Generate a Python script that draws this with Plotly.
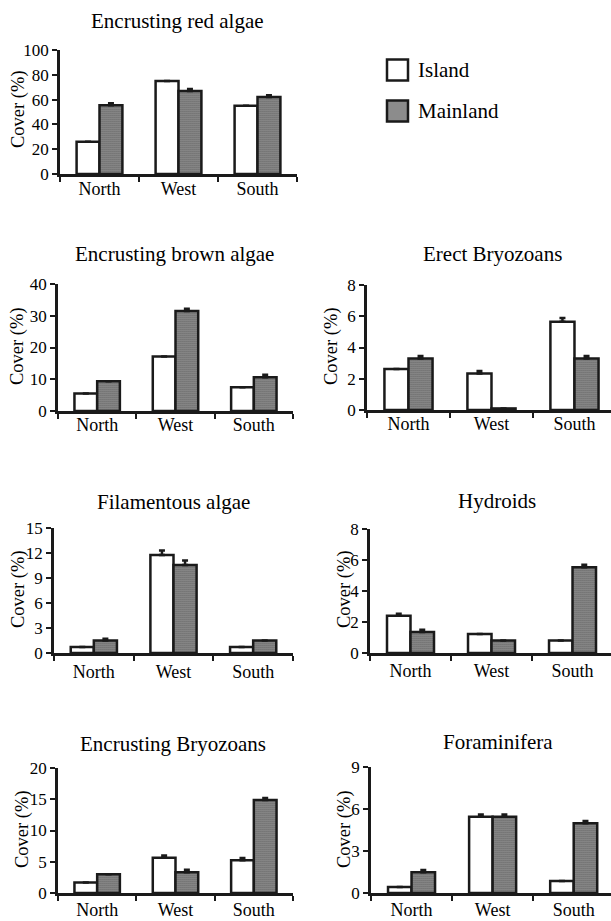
import plotly.graph_objects as go

W, H = 611, 921
FONT = "Liberation Serif"

categories = ["North", "West", "South"]

titles = ["Encrusting red algae", "Encrusting brown algae", "Erect Bryozoans",
          "Filamentous algae", "Hydroids", "Encrusting Bryozoans", "Foraminifera"]

red_island = [26, 75, 55]
red_island_err = [0, 0, 0]
red_main = [55.5, 67, 62]
red_main_err = [1.5, 1.5, 1.5]

brown_island = [5.5, 17.2, 7.5]
brown_island_err = [0, 0, 0]
brown_main = [9.4, 31.5, 10.6]
brown_main_err = [0, 0.7, 0.8]

erect_island = [2.62, 2.34, 5.64]
erect_island_err = [0, 0.15, 0.25]
erect_main = [3.3, 0.1, 3.3]
erect_main_err = [0.15, 0, 0.15]

fil_island = [0.72, 11.76, 0.72]
fil_island_err = [0, 0.55, 0]
fil_main = [1.5, 10.56, 1.5]
fil_main_err = [0.2, 0.55, 0]

hyd_island = [2.4, 1.22, 0.8]
hyd_island_err = [0.13, 0, 0]
hyd_main = [1.35, 0.8, 5.54]
hyd_main_err = [0.15, 0, 0.15]

eb_island = [1.66, 5.63, 5.25]
eb_island_err = [0, 0.37, 0.35]
eb_main = [3.0, 3.3, 14.9]
eb_main_err = [0, 0.4, 0.3]

for_island = [0.43, 5.45, 0.86]
for_island_err = [0, 0.15, 0]
for_main = [1.48, 5.45, 4.98]
for_main_err = [0.17, 0.15, 0.16]

y_max = [100, 40, 8, 15, 8, 20, 9]
y_step = [20, 10, 2, 3, 2, 5, 3]

island_vals = [red_island, brown_island, erect_island, fil_island, hyd_island, eb_island, for_island]
island_errs = [red_island_err, brown_island_err, erect_island_err, fil_island_err, hyd_island_err, eb_island_err, for_island_err]
main_vals = [red_main, brown_main, erect_main, fil_main, hyd_main, eb_main, for_main]
main_errs = [red_main_err, brown_main_err, erect_main_err, fil_main_err, hyd_main_err, eb_main_err, for_main_err]

# layout (pixels): x0, x1, y_top, y_zero, x-range max, title x, title y, ytitle x, ytitle y, label standoff
panels = [
    (60, 297, 50, 174, 2.5, 177, 21, 18, 109, -3),
    (58, 293, 284, 411, 2.5, 174, 254, 18, 346, -4),
    (367, 611, 285, 410, 2.44, 492, 254, 332, 346, -4),
    (54, 293, 528, 653, 2.5, 173, 502, 18, 589, 1),
    (370, 611, 529, 653, 2.475, 497, 501, 344, 589, 0),
    (58, 293, 768, 893, 2.5, 173, 744, 22, 829, -1),
    (371, 611, 767, 893, 2.46, 498, 742, 344, 829, -1),
]

fig = go.Figure()
annotations = []
LINE = "#1a1a1a"

for i, (x0, x1, yt, yz, xr, tx, ty, ytx, yty, lso) in enumerate(panels):
    n = "" if i == 0 else str(i + 1)
    xa, ya = "x" + n, "y" + n
    fig.add_trace(go.Bar(
        x=categories, y=island_vals[i], xaxis=xa, yaxis=ya, name="Island",
        showlegend=False,
        marker=dict(color="white", line=dict(color=LINE, width=2.5)),
        error_y=dict(type="data", symmetric=False, array=island_errs[i],
                     arrayminus=[0, 0, 0], color=LINE, thickness=2.5, width=3),
    ))
    fig.add_trace(go.Bar(
        x=categories, y=main_vals[i], xaxis=xa, yaxis=ya, name="Mainland",
        showlegend=False,
        marker=dict(color="#8c8c8c", line=dict(color=LINE, width=2.5),
                    pattern=dict(shape=".", size=2, solidity=0.6,
                                 fgcolor="#4a4a4a", bgcolor="#b4b4b4", fillmode="replace")),
        error_y=dict(type="data", symmetric=False, array=main_errs[i],
                     arrayminus=[0, 0, 0], color=LINE, thickness=2.5, width=3),
    ))
    fig.update_layout(**{
        ("xaxis" + n): dict(
            domain=[x0 / W, x1 / W], anchor=ya, type="category",
            range=[-0.5, xr], showline=True, linecolor=LINE, linewidth=2.5,
            ticks="outside", tickson="boundaries", ticklen=5, tickwidth=2,
            tickcolor=LINE, showgrid=False, zeroline=False, automargin=False,
            ticklabelstandoff=lso,
            tickfont=dict(family=FONT, size=18, color="black"),
            fixedrange=True,
        ),
        ("yaxis" + n): dict(
            domain=[1 - yz / H, 1 - yt / H], anchor=xa,
            range=[0, y_max[i]], tickmode="linear", tick0=0, dtick=y_step[i],
            showline=True, linecolor=LINE, linewidth=2.5, automargin=False,
            ticks="outside", ticklen=5, tickwidth=2, tickcolor=LINE,
            showgrid=False, zeroline=False,
            tickfont=dict(family=FONT, size=17, color="black"),
            fixedrange=True,
        ),
    })
    annotations.append(dict(
        text=titles[i], x=tx / W, y=1 - ty / H, xref="paper", yref="paper",
        xanchor="center", yanchor="middle", showarrow=False,
        font=dict(family=FONT, size=21, color="black")))
    annotations.append(dict(
        text="Cover (%)", x=ytx / W, y=1 - yty / H, xref="paper", yref="paper",
        xanchor="center", yanchor="middle", showarrow=False, textangle=-90,
        font=dict(family=FONT, size=18.5, color="black")))

# legend
legend_labels = ["Island", "Mainland"]
legend_fill = ["white", "#8c8c8c"]
legend_y = [70, 111]
shapes = []
for lab, fc, cy in zip(legend_labels, legend_fill, legend_y):
    shapes.append(dict(type="rect", xref="paper", yref="paper",
                       x0=387 / W, x1=408 / W, y0=1 - (cy + 10.5) / H, y1=1 - (cy - 10.5) / H,
                       line=dict(color=LINE, width=2.5), fillcolor=fc))
    annotations.append(dict(
        text=lab, x=416 / W, y=1 - cy / H, xref="paper", yref="paper",
        xanchor="left", yanchor="middle", showarrow=False,
        font=dict(family=FONT, size=21, color="black")))

fig.update_layout(
    template="none",
    width=W, height=H, margin=dict(l=0, r=0, t=0, b=0, pad=0, autoexpand=False),
    paper_bgcolor="white", plot_bgcolor="white",
    barmode="group", bargap=0.42, bargroupgap=0,
    annotations=annotations, shapes=shapes, showlegend=False,
    font=dict(family=FONT, color="black"),
)

fig.write_html("out.html", config={"displayModeBar": False},
               post_script="document.body.style.margin='0';document.body.style.padding='0';")
